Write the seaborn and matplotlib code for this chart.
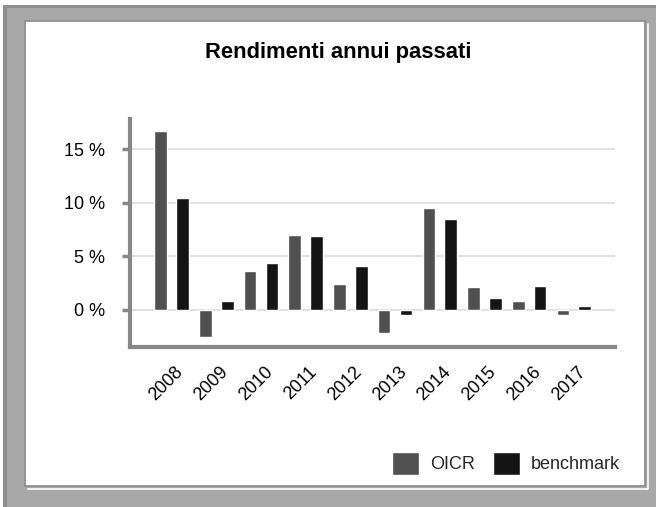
import pandas as pd
import matplotlib
matplotlib.use("Agg")
import matplotlib.pyplot as plt
import matplotlib.transforms as mtransforms
from matplotlib.patches import Rectangle
from matplotlib.lines import Line2D
import seaborn as sns

# values (%)
years = ["2008", "2009", "2010", "2011", "2012", "2013", "2014", "2015", "2016", "2017"]
oicr = [16.7, -2.5, 3.6, 7.0, 2.4, -2.1, 9.5, 2.1, 0.8, -0.5]
benchmark = [10.4, 0.8, 4.4, 6.9, 4.1, -0.5, 8.5, 1.1, 2.2, 0.4]
series_names = ["OICR", "benchmark"]
series_colors = ["#505050", "#141414"]
y_ticks = [0, 5, 10, 15]

df = pd.DataFrame({
    "anno": years * 2,
    "rendimento": oicr + benchmark,
    "serie": [series_names[0]] * len(years) + [series_names[1]] * len(years),
})

sns.set_theme(style="white")
plt.rcParams["font.family"] = ["Liberation Sans", "DejaVu Sans"]

W, H = 656, 507
fig = plt.figure(figsize=(W / 100, H / 100), dpi=100)
fig.patch.set_facecolor("white")


def px_rect(x0, y0, x1, y1, **kw):
    # rectangle given in image pixels (origin top-left)
    return Rectangle((x0 / W, 1 - y1 / H), (x1 - x0) / W, (y1 - y0) / H,
                     transform=fig.transFigure, **kw)


# grey frame with darker top/left edge, white panel with a double border
fig.patches.append(px_rect(3, 5, W, H, facecolor="#a8a8a8", lw=0, zorder=-5))
fig.patches.append(px_rect(3, 5, W, 8, facecolor="#8e8e8e", lw=0, zorder=-4))
fig.patches.append(px_rect(3, 5, 7, H, facecolor="#8e8e8e", lw=0, zorder=-4))
fig.patches.append(px_rect(25, 21, 645, 486, facecolor="white", edgecolor="#8a8a8a",
                           lw=1.2, zorder=-3))
fig.lines.append(Line2D([648 / W, 648 / W, 28 / W], [1 - 24 / H, 1 - 489 / H, 1 - 489 / H],
                        transform=fig.transFigure, color="white", lw=1.2, zorder=-2))

ax = fig.add_axes([130 / W, 1 - 347 / H, 485 / W, 228 / H])
ax.set_facecolor("none")

sns.barplot(data=df, x="anno", y="rendimento", hue="serie", palette=series_colors,
            width=0.976, gap=0.42, saturation=1, ax=ax, zorder=3)

ax.set_xlim(-0.93, 9.92)
ax.set_ylim(-3.45, 17.8)
ax.set_yticks(y_ticks)
ax.set_yticklabels([f"{t} %" for t in y_ticks])
for t in y_ticks:
    ax.axhline(t, color="#d9d9d9", lw=1.1, zorder=1)

ax.set_xlabel("")
ax.set_ylabel("")
for side in ["top", "right"]:
    ax.spines[side].set_visible(False)
for side in ["left", "bottom"]:
    ax.spines[side].set_color("#888888")
    ax.spines[side].set_linewidth(3)

ax.tick_params(axis="y", length=6, width=2.5, color="#888888", left=True,
               labelsize=13, pad=12, labelcolor="black")
ax.tick_params(axis="x", length=0, labelsize=13, pad=12, labelcolor="black")

offset = mtransforms.ScaledTranslation(3 / 100, 0, fig.dpi_scale_trans)
for lab in ax.get_xticklabels():
    lab.set_rotation(45)
    lab.set_ha("right")
    lab.set_rotation_mode("anchor")
    lab.set_transform(lab.get_transform() + offset)

fig.text(338 / W, 1 - 58 / H, "Rendimenti annui passati", ha="center", va="baseline",
         fontsize=15.8, fontweight="bold", color="black")

handles, labels = ax.get_legend_handles_labels()
ax.legend_.remove()
fig.legend(handles, labels, loc="center", bbox_to_anchor=(0.772, 0.0858), ncol=2,
           frameon=False, fontsize=13, handlelength=1.45, handleheight=1.5,
           handletextpad=0.65, columnspacing=1.0)

fig.savefig("out.png", dpi=100)
